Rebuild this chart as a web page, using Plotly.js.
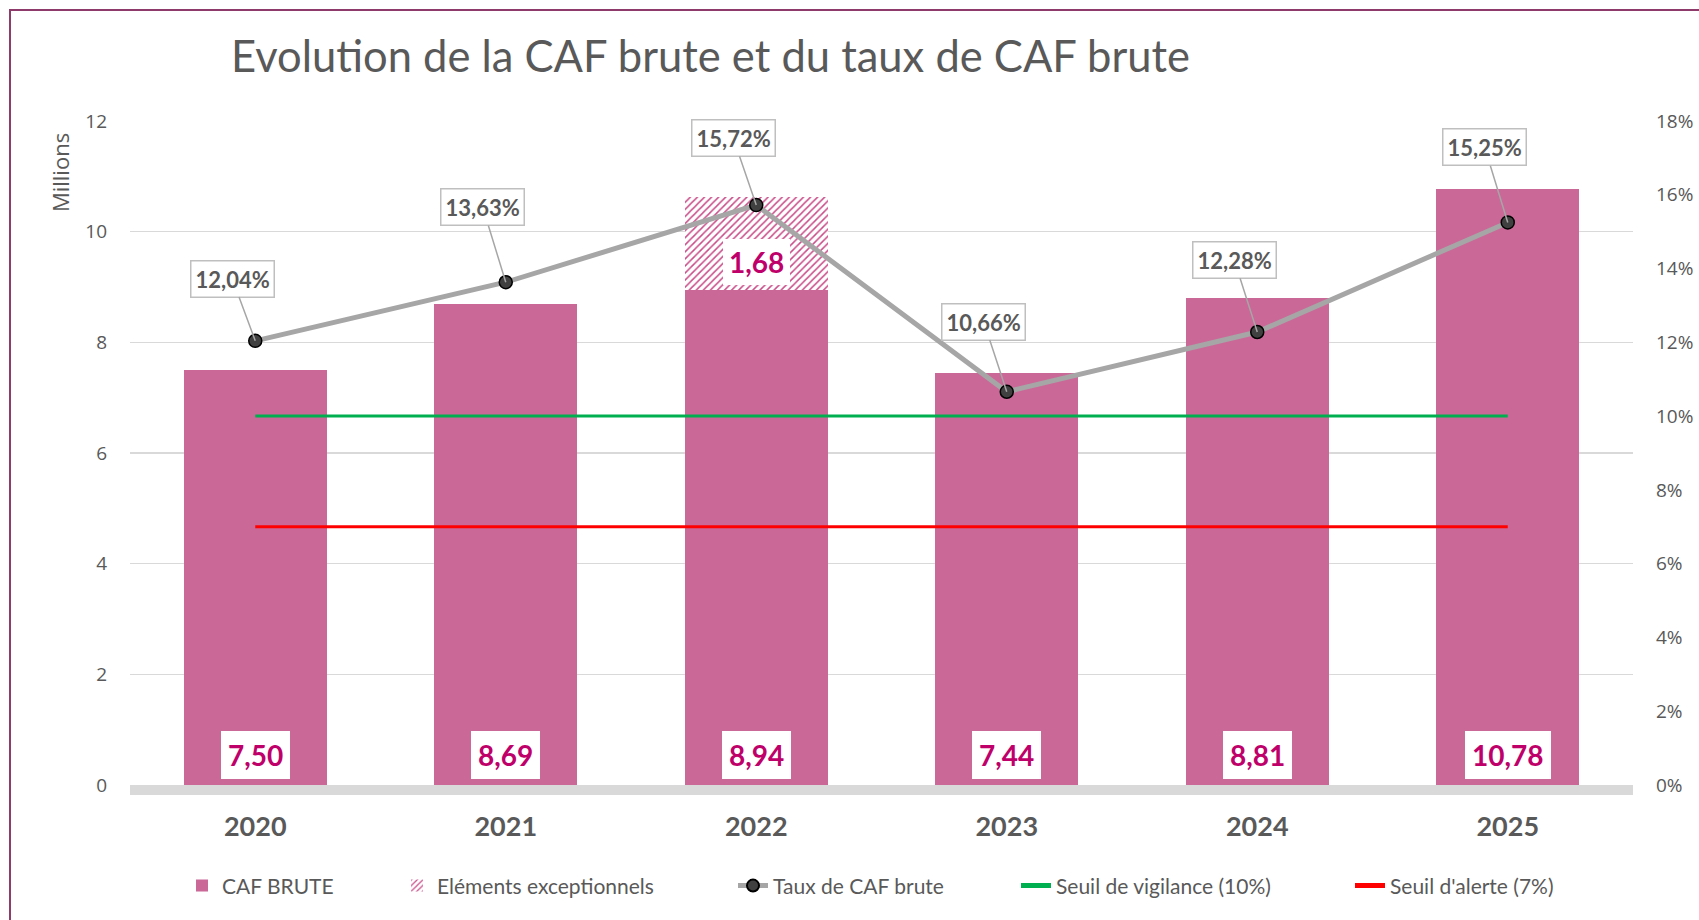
<!DOCTYPE html>
<html>
<head>
<meta charset="utf-8">
<script src="https://cdn.plot.ly/plotly-3.0.1.min.js"></script>
<style>
  html, body { margin: 0; padding: 0; background: #ffffff; }
  #wrap { position: relative; width: 1699px; height: 920px; overflow: hidden; }
  #chart { position: absolute; left: 0; top: 0; width: 1699px; height: 920px; }
  #frame { position: absolute; left: 9px; top: 9px; width: 2000px; height: 2000px;
           border-left: 2px solid #8E3B6C; border-top: 2px solid #8E3B6C; pointer-events: none; }
</style>
</head>
<body>
<div id="wrap">
  <div id="chart"></div>
  <div id="frame"></div>
</div>
<script>
// ---- Data ----
const annees = ['2020', '2021', '2022', '2023', '2024', '2025'];
const cafBrute = [7.50, 8.69, 8.94, 7.44, 8.81, 10.78];          // millions
const elementsExceptionnels = [0, 0, 1.68, 0, 0, 0];              // millions
const tauxCafBrute = [12.04, 13.63, 15.72, 10.66, 12.28, 15.25];  // %
const seuilVigilance = [10, 10, 10, 10, 10, 10];                  // %
const seuilAlerte = [7, 7, 7, 7, 7, 7];                           // %

const leftTicks = [0, 2, 4, 6, 8, 10, 12];
const rightTicks = [0, 2, 4, 6, 8, 10, 12, 14, 16, 18];

// ---- Styles ----
const GREY_TXT = '#595959';
const PINK = '#CA6897';
const PINK_TXT = '#C0006A';
const fr2 = v => v.toFixed(2).replace('.', ',');

const traces = [
  {
    type: 'bar', name: 'CAF BRUTE', x: annees, y: cafBrute,
    marker: { color: PINK, line: { width: 0 } },
    yaxis: 'y', hoverinfo: 'skip', legend: 'legend'
  },
  {
    type: 'bar', name: 'Eléments exceptionnels', x: annees, y: elementsExceptionnels,
    marker: { color: '#ffffff', line: { width: 0 },
      pattern: { shape: '/', fgcolor: '#C94C88', bgcolor: '#ffffff', size: 5, solidity: 0.3 } },
    yaxis: 'y', hoverinfo: 'skip', legend: 'legend2'
  },
  {
    type: 'scatter', mode: 'lines+markers', name: 'Taux de CAF brute', x: annees, y: tauxCafBrute,
    line: { color: '#A6A6A6', width: 5 },
    marker: { color: '#404040', size: 13, line: { color: '#000000', width: 1.5 } },
    yaxis: 'y2', hoverinfo: 'skip', legend: 'legend3'
  },
  {
    type: 'scatter', mode: 'lines', name: 'Seuil de vigilance (10%)', x: annees, y: seuilVigilance,
    line: { color: '#00B050', width: 3 }, yaxis: 'y2', hoverinfo: 'skip', legend: 'legend4'
  },
  {
    type: 'scatter', mode: 'lines', name: "Seuil d'alerte (7%)", x: annees, y: seuilAlerte,
    line: { color: '#FF0000', width: 3 }, yaxis: 'y2', hoverinfo: 'skip', legend: 'legend5'
  }
];

const annotations = [];
// bar value labels (white boxes at the bottom of the bars); x given as category index
annees.forEach((a, i) => {
  annotations.push({
    x: i, y: 0, xref: 'x', yref: 'y', yanchor: 'bottom', yshift: 6,
    text: '<b>' + fr2(cafBrute[i]) + '</b>', showarrow: false,
    font: { family: 'Lato, sans-serif', size: 28, color: PINK_TXT },
    bgcolor: '#ffffff', borderpad: 7, borderwidth: 0
  });
  if (elementsExceptionnels[i] > 0) {
    annotations.push({
      x: i, y: cafBrute[i] + elementsExceptionnels[i] * 0.3, xref: 'x', yref: 'y', yanchor: 'middle',
      text: '<b>' + fr2(elementsExceptionnels[i]) + '</b>', showarrow: false,
      font: { family: 'Lato, sans-serif', size: 28, color: PINK_TXT },
      bgcolor: '#ffffff', borderpad: 6, borderwidth: 0
    });
  }
});
// rate labels with leader lines
const labelOffsetY = [-62, -75, -67, -70, -72, -75];
annees.forEach((a, i) => {
  annotations.push({
    x: i, y: tauxCafBrute[i], xref: 'x', yref: 'y2',
    text: '<b>' + fr2(tauxCafBrute[i]) + '%</b>',
    showarrow: true, arrowhead: 0, arrowwidth: 1.5, arrowcolor: '#A6A6A6',
    ax: -23, ay: labelOffsetY[i], standoff: 0,
    font: { family: 'Lato, sans-serif', size: 22, color: GREY_TXT },
    bgcolor: '#ffffff', bordercolor: '#BFBFBF', borderwidth: 1.5, borderpad: 4
  });
});
// "Millions" unit label
annotations.push({
  xref: 'paper', yref: 'paper', x: -0.0466, y: 0.923, xanchor: 'center', yanchor: 'middle',
  text: 'Millions', textangle: -90, showarrow: false,
  font: { family: 'Open Sans, sans-serif', size: 22, color: GREY_TXT }
});

const legendBase = {
  orientation: 'h', y: -0.152, yanchor: 'middle', xanchor: 'left',
  font: { family: 'Lato, sans-serif', size: 21, color: GREY_TXT },
  bgcolor: 'rgba(0,0,0,0)', itemsizing: 'constant'
};
// legend text starts (pixels) in reference: 222, 437, 773, 1056, 1390 ; plot left = 130, width = 1503
const px2paper = p => (p - 130) / 1503;
const legendTextOffset = 40;

const layout = {
  width: 1699, height: 920,
  margin: { l: 130, r: 66, t: 121, b: 135 },
  paper_bgcolor: '#ffffff', plot_bgcolor: '#ffffff',
  barmode: 'stack', bargap: 0.43,
  showlegend: true,
  title: {
    text: 'Evolution de la CAF brute et du taux de CAF brute',
    xref: 'container', yref: 'container', x: 0.136, xanchor: 'left', y: 0.938, yanchor: 'middle',
    font: { family: 'Lato, sans-serif', size: 43.5, color: GREY_TXT }
  },
  xaxis: {
    type: 'category', categoryorder: 'array', categoryarray: annees,
    range: [-0.5, annees.length - 0.5], autorange: false,
    ticks: '', ticklabelstandoff: 9,
    showline: true, linecolor: '#D9D9D9', linewidth: 10, layer: 'above traces',
    showgrid: false, zeroline: false,
    tickfont: { family: 'Lato, sans-serif', size: 27, color: GREY_TXT, weight: 'bold' }
  },
  yaxis: {
    range: [0, 12], autorange: false, tickvals: leftTicks, ticktext: leftTicks.map(String),
    showgrid: true, gridcolor: '#D9D9D9', gridwidth: 1.5, zeroline: false,
    ticks: '', ticklabelstandoff: 22, showline: false,
    tickfont: { family: 'Open Sans, sans-serif', size: 19, color: GREY_TXT }
  },
  yaxis2: {
    overlaying: 'y', side: 'right', range: [0, 18], autorange: false,
    tickvals: rightTicks, ticktext: rightTicks.map(v => v + '%'),
    showgrid: false, zeroline: false, ticks: '', ticklabelstandoff: 22, showline: false,
    tickfont: { family: 'Open Sans, sans-serif', size: 19, color: GREY_TXT }
  },
  legend:  Object.assign({}, legendBase, { x: px2paper(222 - legendTextOffset) }),
  legend2: Object.assign({}, legendBase, { x: px2paper(437 - legendTextOffset) }),
  legend3: Object.assign({}, legendBase, { x: px2paper(773 - legendTextOffset) }),
  legend4: Object.assign({}, legendBase, { x: px2paper(1056 - legendTextOffset) }),
  legend5: Object.assign({}, legendBase, { x: px2paper(1390 - legendTextOffset) }),
  annotations: annotations
};

Plotly.newPlot('chart', traces, layout, { displayModeBar: false, staticPlot: true });
</script>
</body>
</html>
